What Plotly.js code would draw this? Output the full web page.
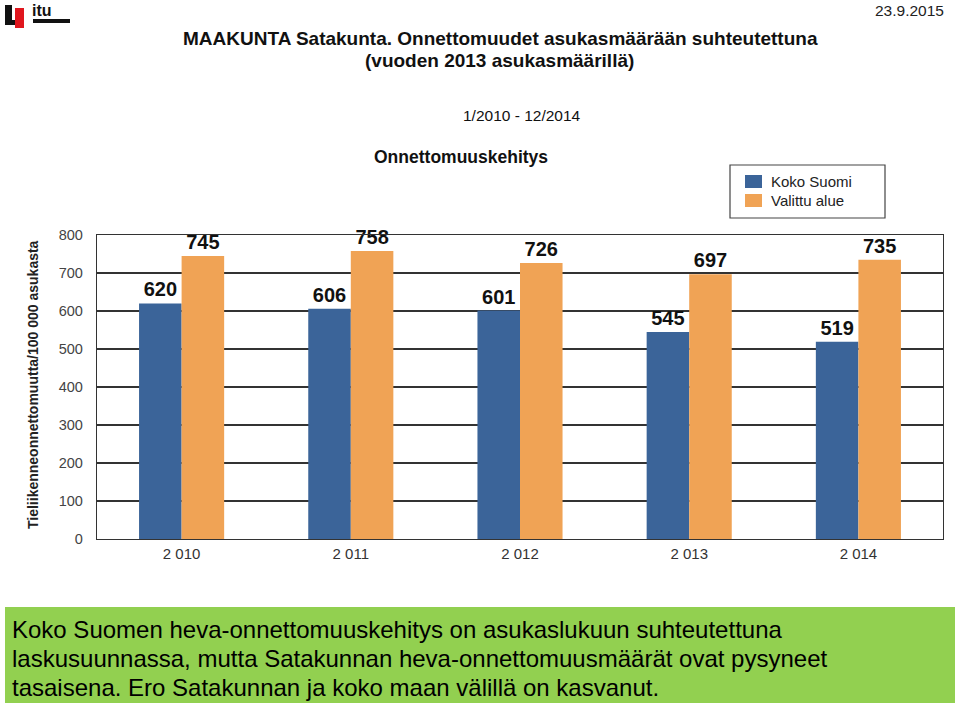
<!DOCTYPE html>
<html><head><meta charset="utf-8">
<script src="https://cdn.plot.ly/plotly-3.0.1.min.js"></script>
<style>html,body{margin:0;padding:0;background:#fff;}#chart{width:960px;height:706px;}</style>
</head><body><div id="chart"></div>
<script>
const years = ["2 010", "2 011", "2 012", "2 013", "2 014"];
const kokoSuomi = [620, 606, 601, 545, 519];
const valittuAlue = [745, 758, 726, 697, 735];
const seriesNames = ["Koko Suomi", "Valittu alue"];
const yTicks = [0, 100, 200, 300, 400, 500, 600, 700, 800];
const textLines = [
  "Koko Suomen heva-onnettomuuskehitys on asukaslukuun suhteutettuna",
  "laskusuunnassa, mutta Satakunnan heva-onnettomuusmäärät ovat pysyneet",
  "tasaisena. Ero Satakunnan ja koko maan välillä on kasvanut."
];

const W = 960, H = 706, L = 97, R = 943, T = 235, B = 539;
const px = v => (v - L) / (R - L);
const py = v => (B - v) / (B - T);

const blue = "#3b6499", orange = "#f0a355";
const f = "Liberation Sans, Arial, sans-serif";
const labelFont = {family: f, size: 20, color: "#111", weight: "bold"};

const traces = [
  {type: "bar", x: years, y: kokoSuomi, name: seriesNames[0], marker: {color: blue},
   text: kokoSuomi.map(String), textposition: "outside", textfont: labelFont, cliponaxis: false, showlegend: false, hoverinfo: "none"},
  {type: "bar", x: years, y: valittuAlue, name: seriesNames[1], marker: {color: orange},
   text: valittuAlue.map(String), textposition: "outside", textfont: labelFont, cliponaxis: false, showlegend: false, hoverinfo: "none"}
];

const ann = (x, y, text, size, opts) => Object.assign({xref: "paper", yref: "paper", x: px(x), y: py(y), xanchor: "center", yanchor: "middle", text, showarrow: false, font: {family: f, size, color: "#111"}}, opts || {});

const annotations = [
  ann(500, 38, "<b>MAAKUNTA Satakunta. Onnettomuudet asukasmäärään suhteutettuna</b>", 19),
  ann(499, 60, "<b>(vuoden 2013 asukasmäärillä)</b>", 19),
  ann(522, 115, "1/2010 - 12/2014", 15.5),
  ann(461, 157, "<b>Onnettomuuskehitys</b>", 17.5),
  ann(769, 181, seriesNames[0], 15, {xanchor: "left", font: {family: f, size: 15, color: "#222"}}),
  ann(769, 200, seriesNames[1], 15, {xanchor: "left", font: {family: f, size: 15, color: "#222"}}),
  ann(946, 10, "23.9.2015", 15.5, {xanchor: "right", font: {family: f, size: 15.5, color: "#222"}}),
  ann(33, 385, "<b>Tieliikenneonnettomuutta/100 000 asukasta</b>", 14, {textangle: -90, font: {family: f, size: 14, color: "#222"}}),
  ann(30, 11, "<b>itu</b>", 16, {xanchor: "left"}),
  ann(10, 629, textLines[0], 24, {xanchor: "left", font: {family: f, size: 24, color: "#000"}}),
  ann(10, 658, textLines[1], 24, {xanchor: "left", font: {family: f, size: 24, color: "#000"}}),
  ann(10, 687, textLines[2], 24, {xanchor: "left", font: {family: f, size: 24, color: "#000"}})
];

const rect = (x0, y0, x1, y1, fill, line) => ({type: "rect", xref: "paper", yref: "paper", x0: px(x0), x1: px(x1), y0: py(y1), y1: py(y0), fillcolor: fill, line: line || {width: 0}, layer: "below"});

const shapes = [
  rect(5, 607, 955, 703, "#92d050"),
  rect(730, 165, 885, 218, "rgba(0,0,0,0)", {color: "#444", width: 1.2}),
  rect(745, 175, 762, 188, blue),
  rect(745, 194, 762, 207, orange),
  // logo
  rect(5, 5, 12, 25, "#111"),
  rect(5, 20, 17, 25, "#111"),
  rect(15, 8, 24, 28, "#e0161e"),
  rect(33, 19, 70, 23, "#111")
];

const layout = {
  width: W, height: H,
  margin: {l: L, r: W - R, t: T, b: H - B, pad: 0},
  paper_bgcolor: "#fff", plot_bgcolor: "#fff",
  barmode: "group", bargap: 0.497, bargroupgap: 0,
  showlegend: false,
  xaxis: {type: "category", showgrid: false, zeroline: false, showline: true, mirror: true, linecolor: "#333", linewidth: 1.2,
    ticks: "", ticklabelstandoff: 1, tickfont: {family: f, size: 15, color: "#333"}, fixedrange: true},
  yaxis: {range: [0, 800], tickvals: yTicks, ticktext: yTicks.map(String), showgrid: true, gridcolor: "#333", gridwidth: 1.2,
    zeroline: false, showline: true, mirror: true, linecolor: "#333", linewidth: 1.2,
    ticks: "", ticklabelstandoff: 10, tickfont: {family: f, size: 14.5, color: "#444"}, fixedrange: true},
  annotations, shapes
};

Plotly.newPlot("chart", traces, layout, {displayModeBar: false, staticPlot: true});
</script>
</body></html>
